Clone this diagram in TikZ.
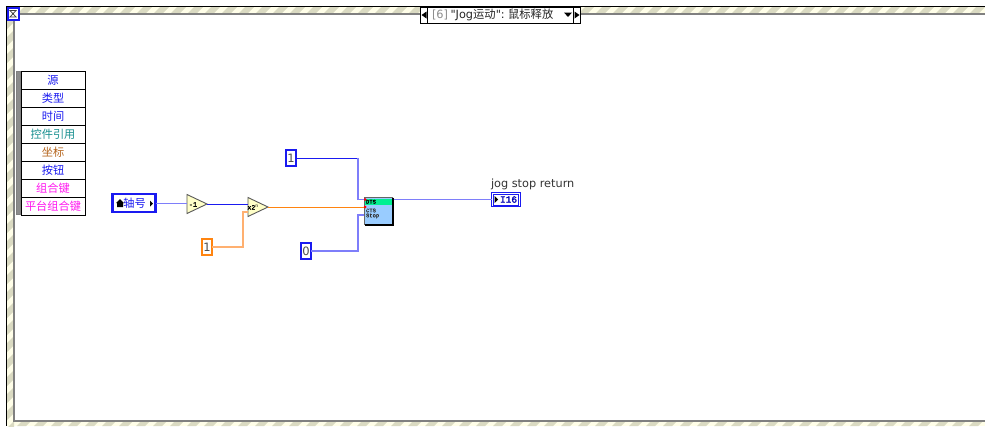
\documentclass[tikz,border=0pt]{standalone}
\usepackage{fontspec}
\setmainfont{Noto Sans CJK SC}
\newfontfamily\latn{DejaVu Sans}
\newfontfamily\mono{Liberation Mono}[FakeBold=2]
\usetikzlibrary{shapes.geometric}
\definecolor{stripeA}{HTML}{FFFEE8}
\definecolor{stripeB}{HTML}{DADAC2}
\definecolor{frameGray}{HTML}{808080}
\definecolor{lvBlue}{HTML}{1A1AF0}
\definecolor{lvWire}{HTML}{7E7EFA}
\definecolor{lvOrange}{HTML}{FF8410}
\definecolor{lvOrangeL}{HTML}{FFB070}
\definecolor{lvTeal}{HTML}{189090}
\definecolor{lvBrown}{HTML}{B5651D}
\definecolor{lvPink}{HTML}{FF18F0}
\definecolor{viBody}{HTML}{99CCFF}
\definecolor{viHead}{HTML}{00F090}
\definecolor{primFill}{HTML}{FFFFC8}
\tikzset{
  x=1pt,y=-1pt,
  every node/.style={inner sep=0pt,outer sep=0pt},
  row/.style={draw=black,line width=0.9pt,fill=white,minimum width=64pt,minimum height=18pt,anchor=north west,font=\fontsize{11.2}{11}\selectfont},
  const/.style={draw=lvBlue,line width=2.4pt,fill=white,minimum width=10pt,minimum height=16pt,anchor=north west,font=\latn\fontsize{11.5}{11}\selectfont,text=black!70},
  consto/.style={const,draw=lvOrange},
  prim/.style={shape=isosceles triangle,isosceles triangle stretches,shape border rotate=0,draw=black!65,line width=0.9pt,fill=primFill,minimum width=19pt,minimum height=20pt,anchor=center},
  wireB/.style={draw=lvWire,line width=1.5pt},
  wireD/.style={draw=lvBlue,line width=0.9pt},
  wireO/.style={draw=lvOrange,line width=0.9pt},
  wireL/.style={draw=lvOrangeL,line width=1.3pt},
}
\begin{document}
\begin{tikzpicture}
\useasboundingbox (0,0) rectangle (985,426);
\fill[white] (0,0) rectangle (985,426);
% hatched frame
\fill[stripeA] (6,6) rectangle (985,14);
\fill[stripeA] (6,6) rectangle (14,426);
\fill[stripeA] (6,421) rectangle (985,426);
\begin{scope}
\clip (6,6) rectangle (985,14);
\foreach \k in {0,...,59}{
  \fill[stripeB] ({\k*17},14) -- ({\k*17+9},14) -- ({\k*17+17},6) -- ({\k*17+8},6) -- cycle;
}
\end{scope}
\begin{scope}
\clip (6,14) rectangle (14,426);
\foreach \k in {0,...,26}{
  \fill[stripeB] (6,{\k*17+4}) -- (6,{\k*17+13}) -- (14,{\k*17+5}) -- (14,{\k*17-4}) -- cycle;
}
\end{scope}
\begin{scope}
\clip (14,421) rectangle (985,426);
\foreach \k in {0,...,59}{
  \fill[stripeB] ({\k*17},426) -- ({\k*17+9},426) -- ({\k*17+14},421) -- ({\k*17+5},421) -- cycle;
}
\end{scope}
\draw[black,line width=1pt] (985,6.5) -- (6.5,6.5) -- (6.5,426);
\draw[frameGray,line width=1.4pt] (985,14) -- (14,14) -- (14,421) -- (985,421);
% top-left icon
\node[draw=lvBlue,line width=2pt,fill=white,minimum width=11pt,minimum height=12pt,anchor=north west] (icon) at (7.5,7.5) {};
\draw[black!75,line width=0.8pt] (10,10.5) -- (16,10.5) -- (10,17) -- (16,17) -- cycle;
% case selector
\node[draw=black,line width=1pt,fill=white,minimum width=160pt,minimum height=16pt,anchor=north west] (sel) at (420.5,7) {};
\node[draw=black,line width=0.8pt,fill=white,minimum width=7pt,minimum height=16pt,anchor=north west] (selL) at (420.5,7) {};
\node[draw=black,line width=0.8pt,fill=white,minimum width=7pt,minimum height=16pt,anchor=north west] (selR) at (573.5,7) {};
\fill[black] (421.5,15) -- (426.5,11.5) -- (426.5,18.5) -- cycle;
\fill[black] (579.5,15) -- (574.5,11.5) -- (574.5,18.5) -- cycle;
\fill[black] (564,12.5) -- (572,12.5) -- (568,17) -- cycle;
\node[anchor=west,font=\fontsize{11.3}{11}\selectfont] (seltxt) at (432,15) {\textcolor{black!45}{\latn [6]} \textcolor{black!85}{\latn "Jog}\textcolor{black!85}{运动}\textcolor{black!85}{\latn ":} \textcolor{black!85}{鼠标释放}};
% cluster
\fill[frameGray] (15.5,71) rectangle (21,215);
\fill[black!45] (17,72) rectangle (19.5,214);
\node[row,text=lvBlue] (r1) at (21,71) {源};
\node[row,text=lvBlue] (r2) at (21,89) {类型};
\node[row,text=lvBlue] (r3) at (21,107) {时间};
\node[row,text=lvTeal] (r4) at (21,125) {控件引用};
\node[row,text=lvBrown] (r5) at (21,143) {坐标};
\node[row,text=lvBlue] (r6) at (21,161) {按钮};
\node[row,text=lvPink] (r7) at (21,179) {组合键};
\node[row,text=lvPink] (r8) at (21,197) {平台组合键};
% diagram nodes
\node[draw=lvBlue,line width=2.2pt,fill=white,minimum width=43pt,minimum height=18pt,anchor=north west,font=\fontsize{11.2}{11}\selectfont,text=lvBlue] (axis) at (112.5,194) {\hspace{1pt}轴号};
\fill[black] (116,203) -- (120,199) -- (124,203) -- (123,203) -- (123,207) -- (117,207) -- (117,203) -- cycle;
\fill[black] (153,203.5) -- (150,200.5) -- (150,206.5) -- cycle;
\node[prim] (dec) at (193,204) {};
\node[font=\mono\fontsize{7}{7}\selectfont,text=black] (dectxt) at (193,204.5) {-1};
\node[prim] (scale) at (254,207) {};
\node[font=\mono\fontsize{6.5}{7}\selectfont,text=black] (scaletxt) at (253,207) {x2$^{\mathrm{n}}$};
\node[const] (cone) at (286,150) {1};
\node[const] (czero) at (301,243) {0};
\node[consto] (cor) at (202,239) {1};
% subVI
\node[draw=black!60,line width=1pt,fill=viBody,minimum width=28pt,minimum height=27pt,anchor=north west] (vi) at (364.5,197.5) {};
\fill[viHead] (365,198.5) rectangle (392,204.5);
\draw[black,line width=1.2pt] (393,197.5) -- (393,225) -- (364.5,225);
\node[anchor=west,font=\mono\fontsize{5.5}{4}\selectfont,text=black] (vitxt1) at (366,201.8) {DTS};
\node[anchor=west,font=\mono\fontsize{5.5}{4}\selectfont,text=black!80] (vitxt2) at (366,210.5) {CTS};
\node[anchor=west,font=\mono\fontsize{5.5}{4}\selectfont,text=black!80] (vitxt3) at (366,216) {Stop};
\fill[red] (365,199.5) circle (1.5);
\fill[red] (365,207) circle (1.5);
% terminal
\node[draw=lvBlue,line width=1pt,fill=white,minimum width=29pt,minimum height=14pt,anchor=north west,font=\mono\fontsize{9.5}{9}\selectfont,text=blue!70!black] (out) at (491.5,192.5) {\hspace{5pt}I16};
\draw[lvBlue,line width=0.7pt] (493.5,194.5) rectangle (518.5,205);
\fill[black] (498,199.5) -- (494.5,196) -- (494.5,203) -- cycle;
\node[anchor=west,font=\latn\fontsize{11.3}{11}\selectfont,text=black!80] (outlbl) at (491,184.5) {jog stop return};
% ports
\coordinate (viA) at (364,199.5);
\coordinate (viB) at (364,207);
\coordinate (viC) at (364,215);
\coordinate (scIn) at (248,212);
\coordinate (viOut) at (393.5,199.5);
% wires
\draw[wireB] (axis.east |- 0,203.5) -- (dec.west |- 0,203.5);
\draw[wireD] (dec.apex |- 0,204.5) -- (scale.west |- 0,204.5);
\draw[wireD] (cone.east) -- (358,158);
\draw[wireB] (358,158) |- (viA);
\draw[wireB] (czero.east) -| (358,215) -- (viC);
\draw[wireO] (scale.apex) -- (viB);
\draw[wireL] (cor.east) -| (243,212) -- (scIn);
\draw[wireB] (viOut) -- (out.west |- viOut);
\end{tikzpicture}
\end{document}
